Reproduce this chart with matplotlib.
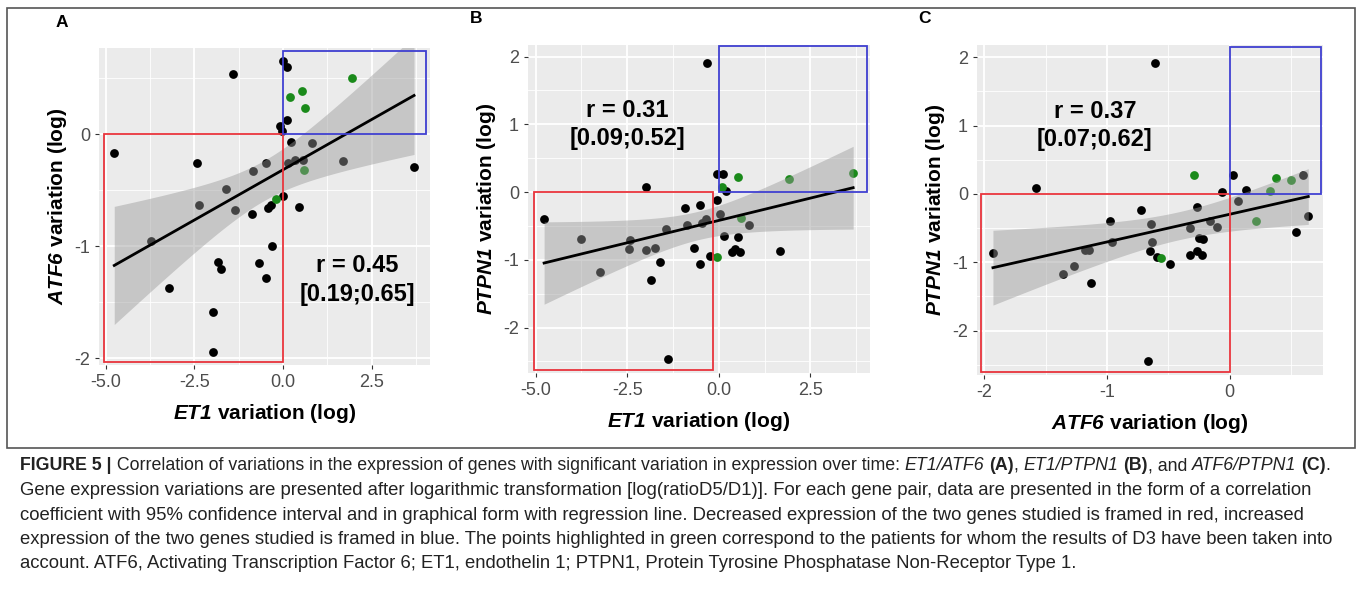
import matplotlib
matplotlib.use("Agg")
import matplotlib.pyplot as plt
import numpy as np
from matplotlib.patches import Rectangle

plt.rcParams["font.family"] = ["Liberation Sans", "DejaVu Sans"]
plt.rcParams["mathtext.fontset"] = "custom"
plt.rcParams["mathtext.rm"] = "Liberation Sans"
plt.rcParams["mathtext.bf"] = "Liberation Sans:bold"
plt.rcParams["mathtext.bfit"] = "Liberation Sans:bold:italic"
plt.rcParams["axes.unicode_minus"] = False

# ---- Panel A: ET1 (x) vs ATF6 (y)
a_x = [0, 0.1, -1.41, 0.11, -0.09, -0.02, 0.22, 0.82, -4.76, -2.44, -0.49, 0.14, 0.33, 0.56,
       1.69, 3.69, -0.85, -1.6, 0, -2.38, -1.36, -0.89, -0.44, -0.33, 0.45, -3.73, -0.3,
       -1.83, -1.75, -0.68, -0.49, -3.22, -1.97, -1.97]
a_y = [0.65, 0.6, 0.54, 0.13, 0.07, 0.03, -0.07, -0.08, -0.17, -0.26, -0.26, -0.26, -0.23, -0.23,
       -0.24, -0.29, -0.33, -0.49, -0.55, -0.63, -0.68, -0.71, -0.66, -0.63, -0.65, -0.95, -1.0,
       -1.14, -1.2, -1.15, -1.28, -1.37, -1.59, -1.94]
a_gx = [1.93, 0.2, 0.52, 0.61, 0.58, -0.19]
a_gy = [0.5, 0.33, 0.39, 0.23, -0.32, -0.58]

# ---- Panel B: ET1 (x) vs PTPN1 (y)
b_x = [-0.32, -0.06, 0.12, 0.21, -1.98, -4.77, -3.75, -0.91, -0.5, -0.06, 0.03, -0.34, -0.47,
       -0.87, -1.43, -2.43, -2.45, -1.99, -1.75, -0.68, 0.82, 0.15, 0.53, 0.44, 0.37, 0.57,
       1.68, -0.25, -0.5, -1.61, -3.25, -1.86, -1.38]
b_y = [1.9, 0.27, 0.27, 0.02, 0.07, -0.4, -0.7, -0.24, -0.19, -0.12, -0.32, -0.4, -0.45,
       -0.49, -0.55, -0.71, -0.84, -0.86, -0.82, -0.82, -0.48, -0.65, -0.67, -0.84, -0.89, -0.89,
       -0.87, -0.95, -1.06, -1.03, -1.18, -1.3, -2.47]
b_gx = [0.53, 1.91, 3.67, 0.1, 0.6, -0.06]
b_gy = [0.22, 0.2, 0.28, 0.08, -0.39, -0.96]

# ---- Panel C: ATF6 (x) vs PTPN1 (y)
c_x = [-0.61, -1.58, 0.03, 0.13, 0.6, -0.06, 0.07, 0.54, 0.64, -1.93, -1.36, -1.27, -1.13,
       -1.18, -1.15, -0.98, -0.96, -0.72, -0.64, -0.63, -0.65, -0.59, -0.49, -0.67, -0.32,
       -0.27, -0.25, -0.22, -0.32, -0.27, -0.23, -0.16, -0.1]
c_y = [1.92, 0.08, 0.28, 0.06, 0.28, 0.03, -0.11, -0.55, -0.33, -0.86, -1.17, -1.05, -1.3,
       -0.82, -0.82, -0.4, -0.7, -0.23, -0.44, -0.71, -0.83, -0.93, -1.03, -2.45, -0.5,
       -0.19, -0.64, -0.66, -0.89, -0.83, -0.89, -0.4, -0.48]
c_gx = [-0.29, 0.38, 0.5, 0.33, 0.21, -0.56]
c_gy = [0.28, 0.23, 0.2, 0.05, -0.4, -0.94]

panels = [
    dict(x=a_x, y=a_y, gx=a_gx, gy=a_gy, letter="A", r="r = 0.45\n[0.19;0.65]", rpos=(2.1, -1.3),
         xlim=(-5.19, 4.14), ylim=(-2.06, 0.77), xt=[-5, -2.5, 0, 2.5], xtl=["-5.0", "-2.5", "0.0", "2.5"],
         yt=[-2, -1, 0], red=(-5.05, -2.03, 0, 0), blue=(0, 0, 4.04, 0.74),
         xlab=r"$\mathbfit{ET1}$ variation (log)", ylab=r"$\mathbfit{ATF6}$ variation (log)",
         pos=[99, 48, 430, 365], lx=-0.13),
    dict(x=b_x, y=b_y, gx=b_gx, gy=b_gy, letter="B", r="r = 0.31\n[0.09;0.52]", rpos=(-2.5, 1.0),
         xlim=(-5.21, 4.13), ylim=(-2.67, 2.17), xt=[-5, -2.5, 0, 2.5], xtl=["-5.0", "-2.5", "0.0", "2.5"],
         yt=[-2, -1, 0, 1, 2], red=(-5.05, -2.63, -0.17, 0), blue=(0, 0, 4.05, 2.16),
         xlab=r"$\mathbfit{ET1}$ variation (log)", ylab=r"$\mathbfit{PTPN1}$ variation (log)",
         pos=[528, 45, 870, 373], lx=-0.17),
    dict(x=c_x, y=c_y, gx=c_gx, gy=c_gy, letter="C", r="r = 0.37\n[0.07;0.62]", rpos=(-1.1, 1.0),
         xlim=(-2.06, 0.76), ylim=(-2.65, 2.18), xt=[-2, -1, 0], xtl=["-2", "-1", "0"],
         yt=[-2, -1, 0, 1, 2], red=(-2.03, -2.6, 0, 0), blue=(0, 0, 0.74, 2.15),
         xlab=r"$\mathbfit{ATF6}$ variation (log)", ylab=r"$\mathbfit{PTPN1}$ variation (log)",
         pos=[977, 45, 1323, 375], lx=-0.17),
]

W, H = 1358, 604
fig = plt.figure(figsize=(W / 100, H / 100), dpi=100)
fig.patches.append(Rectangle((7 / W, 1 - 448 / H), 1348 / W, 440 / H, transform=fig.transFigure,
                             fill=False, edgecolor="#555555", linewidth=1.2))

for p in panels:
    l, t, r, b = p["pos"]
    ax = fig.add_axes([l / W, 1 - b / H, (r - l) / W, (b - t) / H])
    ax.set_facecolor("#EBEBEB")
    for s in ax.spines.values():
        s.set_visible(False)
    ax.set_xticks(p["xt"])
    ax.set_xticklabels(p["xtl"])
    ax.set_yticks(p["yt"])
    xt, yt = np.array(p["xt"], float), np.array(p["yt"], float)
    dx, dy = xt[1] - xt[0], yt[1] - yt[0]
    ax.set_xticks(np.arange(xt[0] - dx / 2, p["xlim"][1], dx), minor=True)
    ax.set_yticks(np.arange(yt[0] - dy / 2, p["ylim"][1], dy), minor=True)
    ax.grid(which="major", color="white", linewidth=1.3)
    ax.grid(which="minor", color="white", linewidth=0.6)
    ax.set_axisbelow(True)
    ax.tick_params(which="minor", length=0)
    ax.tick_params(which="major", length=3, color="#333333", labelsize=13, labelcolor="#4d4d4d")

    allx = np.array(p["x"] + p["gx"])
    ally = np.array(p["y"] + p["gy"])
    ax.scatter(p["x"], p["y"], s=40, color="black", zorder=3, linewidths=0)
    ax.scatter(p["gx"], p["gy"], s=40, color="#1a8a1a", zorder=3, linewidths=0)

    # linear fit with 95% confidence band
    n = len(allx)
    k, c0 = np.polyfit(allx, ally, 1)
    xs = np.linspace(allx.min(), allx.max(), 100)
    res = ally - (k * allx + c0)
    s = np.sqrt((res ** 2).sum() / (n - 2))
    se = s * np.sqrt(1 / n + (xs - allx.mean()) ** 2 / ((allx - allx.mean()) ** 2).sum())
    ax.fill_between(xs, k * xs + c0 - 2.03 * se, k * xs + c0 + 2.03 * se, color="#999999",
                    alpha=0.45, linewidth=0, zorder=4)
    ax.plot(xs, k * xs + c0, color="black", linewidth=2, zorder=5)

    x0, y0, x1, y1 = p["red"]
    ax.add_patch(Rectangle((x0, y0), x1 - x0, y1 - y0, fill=False, edgecolor="#e8343c", linewidth=1.3, zorder=6))
    x0, y0, x1, y1 = p["blue"]
    ax.add_patch(Rectangle((x0, y0), x1 - x0, y1 - y0, fill=False, edgecolor="#3f3fd0", linewidth=1.3, zorder=6))

    ax.text(*p["rpos"], p["r"], ha="center", va="center", fontsize=17, fontweight="bold",
            linespacing=1.3, zorder=7)
    ax.set_xlabel(p["xlab"], fontsize=15, fontweight="bold", labelpad=8)
    ax.set_ylabel(p["ylab"], fontsize=15, fontweight="bold", labelpad=4)
    ax.text(p["lx"], 1.08, p["letter"], transform=ax.transAxes,
            fontsize=12.5, fontweight="bold", ha="left", va="center")
    ax.set_xlim(*p["xlim"])
    ax.set_ylim(*p["ylim"])

# caption, drawn as runs of differently styled text
caption = [
    [("FIGURE 5 |", "bold"), (" Correlation of variations in the expression of genes with significant variation in expression over time: ", "normal"),
     ("ET1/ATF6", "italic"), (" ", "normal"), ("(A)", "bold"), (", ", "normal"), ("ET1/PTPN1", "italic"),
     (" ", "normal"), ("(B)", "bold"), (", and ", "normal"), ("ATF6/PTPN1", "italic"), (" ", "normal"), ("(C)", "bold"), (".", "normal")],
    [("Gene expression variations are presented after logarithmic transformation [log(ratioD5/D1)]. For each gene pair, data are presented in the form of a correlation", "normal")],
    [("coefficient with 95% confidence interval and in graphical form with regression line. Decreased expression of the two genes studied is framed in red, increased", "normal")],
    [("expression of the two genes studied is framed in blue. The points highlighted in green correspond to the patients for whom the results of D3 have been taken into", "normal")],
    [("account. ATF6, Activating Transcription Factor 6; ET1, endothelin 1; PTPN1, Protein Tyrosine Phosphatase Non-Receptor Type 1.", "normal")],
]
renderer = fig.canvas.get_renderer()
for i, line in enumerate(caption):
    xpix = 20
    ypix = 466 + i * 24.5
    fs = 12.75 if i == 0 else 13.35
    for txt, style in line:
        kw = dict(fontsize=fs, color="#222222", va="center", ha="left")
        if style == "bold":
            kw["fontweight"] = "bold"
        if style == "italic":
            kw["fontstyle"] = "italic"
        t = fig.text(xpix / W, 1 - ypix / H, txt, **kw)
        xpix += t.get_window_extent(renderer).width

fig.savefig("out.png", dpi=100)
